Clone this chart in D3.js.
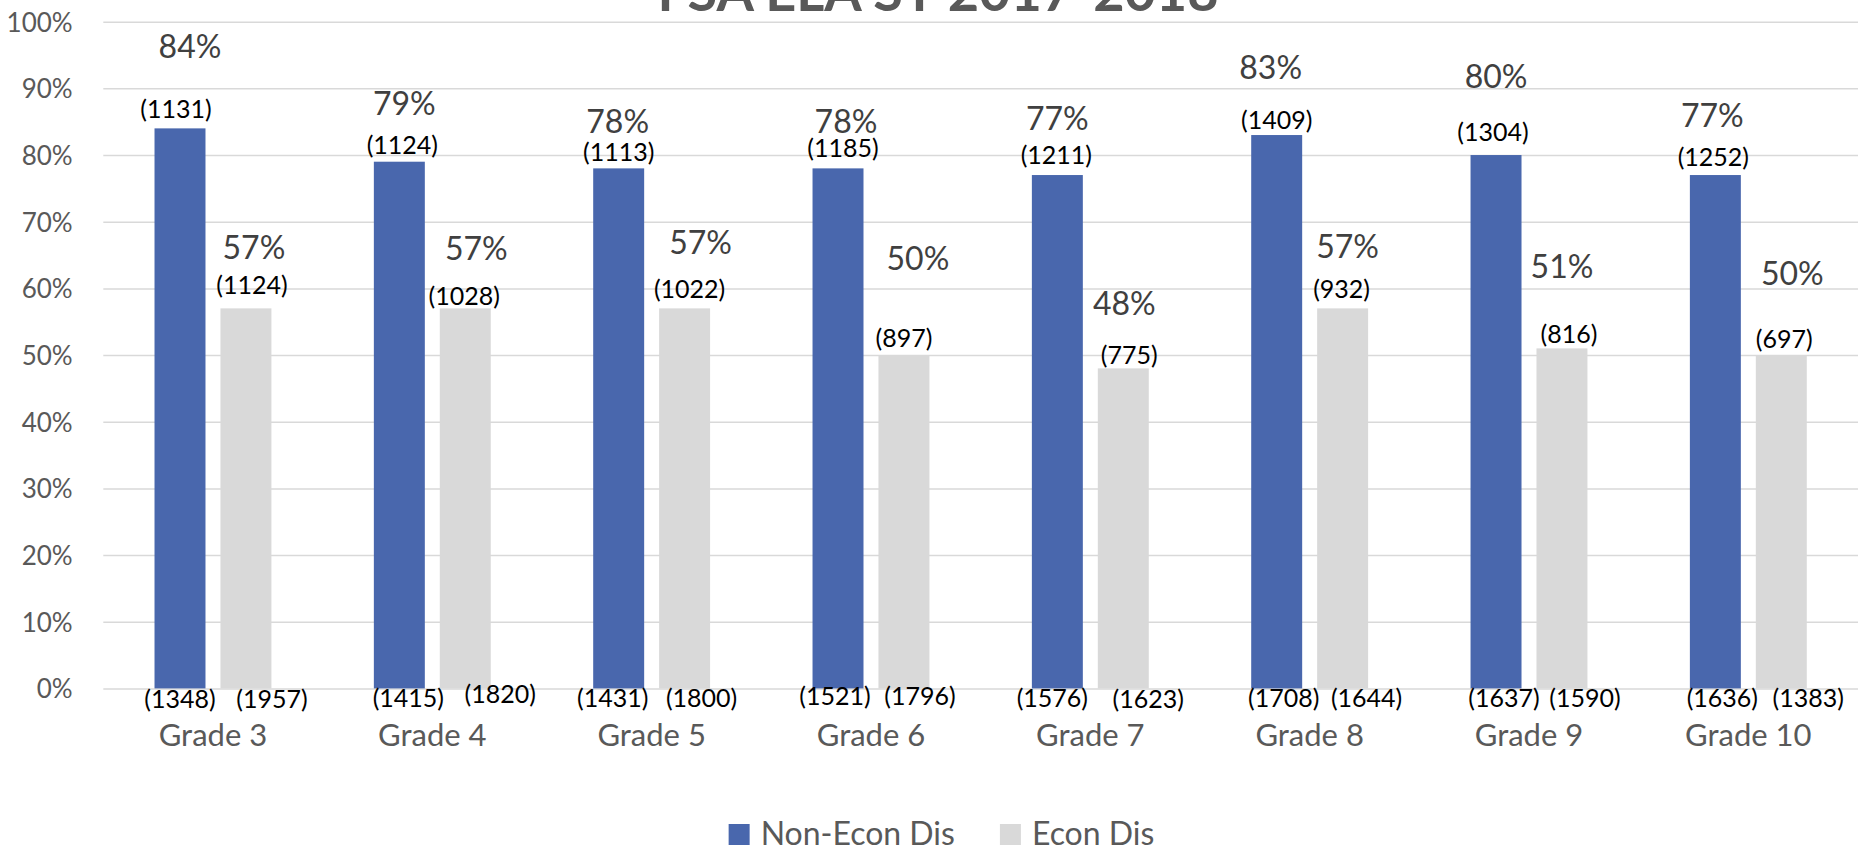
<!DOCTYPE html>
<html>
<head>
<meta charset="utf-8">
<script src="https://cdnjs.cloudflare.com/ajax/libs/d3/7.8.5/d3.min.js"></script>
<style>
  body { margin: 0; background: #fff; }
  svg { display: block; font-family: Lato, "Open Sans", sans-serif; }
</style>
</head>
<body>
<div id="chart"></div>
<script>
var grades = ["Grade 3", "Grade 4", "Grade 5", "Grade 6", "Grade 7", "Grade 8", "Grade 9", "Grade 10"];
var seriesNames = ["Non-Econ Dis", "Econ Dis"];
var nonEconPct = [84, 79, 78, 78, 77, 83, 80, 77];
var econPct = [57, 57, 57, 50, 48, 57, 51, 50];
var nonEconPassed = [1131, 1124, 1113, 1185, 1211, 1409, 1304, 1252];
var econPassed = [1124, 1028, 1022, 897, 775, 932, 816, 697];
var nonEconTested = [1348, 1415, 1431, 1521, 1576, 1708, 1637, 1636];
var econTested = [1957, 1820, 1800, 1796, 1623, 1644, 1590, 1383];
var yTicks = [0, 10, 20, 30, 40, 50, 60, 70, 80, 90, 100];

// the original's data labels were dragged by hand: [dx, dy] in px
// pct + passed: from bar centre / bar top; tested: from bar centre / baseline
var pctShift = [
  [[10, -82], [5, -58], [-1, -47], [8, -47], [0, -57], [-6, -68], [0, -79], [-3, -60]],
  [[8, -61], [11, -60], [16, -66], [14, -97], [1, -65], [5, -62], [0, -82], [11, -82]]
];
var passedShift = [
  [[-4, -19], [3, -17], [0, -16], [5, -20], [-1, -20], [0, -15], [-3, -23], [-2, -18]],
  [[6, -23], [-1, -12], [5, -19], [0, -17], [6, -13], [-1, -19], [7, -14], [3, -16]]
];
var testedShift = [
  [[0, 11], [9, 10], [-6, 10], [-3, 8], [-5, 10], [7, 10], [8, 10], [7, 10]],
  [[26, 11], [35, 6], [17, 10], [16, 8], [25, 11], [24, 10], [23, 10], [27, 10]]
];

var colors = ["#4967ad", "#d9d9d9"];

var svgWidth = 1864;
var svgHeight = 849;
var margin = { top: 21.7, right: 6, bottom: 160.6, left: 103.3 };
var width = svgWidth - margin.left - margin.right;
var height = svgHeight - margin.top - margin.bottom;

var svg = d3.select("#chart")
  .append("svg")
  .attr("width", svgWidth)
  .attr("height", svgHeight);

var chartGroup = svg.append("g")
  .attr("transform", `translate(${margin.left}, ${margin.top})`);

var x0 = d3.scaleBand()
  .domain(grades)
  .range([0, width])
  .paddingInner(0.467)
  .paddingOuter(0.2335);

var x1 = d3.scaleBand()
  .domain(seriesNames)
  .range([0, x0.bandwidth()])
  .paddingInner(0.227);

var y = d3.scaleLinear()
  .domain([0, 100])
  .range([height, 0]);

// gridlines + y labels
var yAxis = chartGroup.append("g")
  .call(d3.axisLeft(y).tickValues(yTicks).tickSize(-width).tickFormat(d => d + "%"))
  .attr("font-family", null)
  .attr("font-size", null);
yAxis.select(".domain").remove();
yAxis.selectAll(".tick line").attr("stroke", "#d9d9d9").attr("stroke-width", 1.5);
yAxis.selectAll(".tick text")
  .attr("x", -30.6)
  .attr("dy", "0.36em")
  .attr("fill", "#595959")
  .style("font-size", "26px");

// category labels
var xAxis = chartGroup.append("g")
  .attr("transform", `translate(0, ${height})`)
  .call(d3.axisBottom(x0).tickSize(0))
  .attr("font-family", null)
  .attr("font-size", null);
xAxis.select(".domain").remove();
xAxis.selectAll(".tick text")
  .attr("y", 58)
  .attr("dy", null)
  .attr("fill", "#595959")
  .style("font-size", "31px");

var series = [
  { name: seriesNames[0], pct: nonEconPct, passed: nonEconPassed, tested: nonEconTested },
  { name: seriesNames[1], pct: econPct, passed: econPassed, tested: econTested }
];

series.forEach(function(s, si) {
  var rows = grades.map(function(g, i) {
    return { grade: g, i: i, pct: s.pct[i], passed: s.passed[i], tested: s.tested[i] };
  });
  var cx = d => x0(d.grade) + x1(s.name) + x1.bandwidth() / 2;

  chartGroup.append("g").selectAll("rect")
    .data(rows)
    .enter()
    .append("rect")
    .attr("x", d => x0(d.grade) + x1(s.name))
    .attr("y", d => y(d.pct))
    .attr("width", x1.bandwidth())
    .attr("height", d => height - y(d.pct))
    .attr("fill", colors[si]);

  chartGroup.append("g").selectAll("text")
    .data(rows)
    .enter()
    .append("text")
    .attr("x", d => cx(d) + pctShift[si][d.i][0])
    .attr("y", d => y(d.pct) + pctShift[si][d.i][1])
    .attr("dy", "0.36em")
    .attr("text-anchor", "middle")
    .attr("fill", "#404040")
    .style("font-size", "32px")
    .text(d => d.pct + "%");

  chartGroup.append("g").selectAll("text")
    .data(rows)
    .enter()
    .append("text")
    .attr("x", d => cx(d) + passedShift[si][d.i][0])
    .attr("y", d => y(d.pct) + passedShift[si][d.i][1])
    .attr("dy", "0.36em")
    .attr("text-anchor", "middle")
    .attr("fill", "#000")
    .style("font-size", "25px")
    .text(d => "(" + d.passed + ")");

  chartGroup.append("g").selectAll("text")
    .data(rows)
    .enter()
    .append("text")
    .attr("x", d => cx(d) + testedShift[si][d.i][0])
    .attr("y", d => y(0) + testedShift[si][d.i][1])
    .attr("dy", "0.36em")
    .attr("text-anchor", "middle")
    .attr("fill", "#000")
    .style("font-size", "25px")
    .text(d => "(" + d.tested + ")");
});

// title, cut off by the top edge like the original
svg.append("text")
  .attr("x", 938)
  .attr("y", 11)
  .attr("text-anchor", "middle")
  .attr("fill", "#595959")
  .style("font-size", "54px")
  .style("font-weight", "bold")
  .text("FSA ELA SY 2017-2018");

// legend
var legend = svg.append("g");
var items = legend.selectAll("g")
  .data(seriesNames)
  .enter()
  .append("g");
items.append("rect")
  .attr("y", 824)
  .attr("width", 21)
  .attr("height", 21)
  .attr("fill", (d, i) => colors[i]);
items.append("text")
  .attr("x", 32)
  .attr("y", 845)
  .attr("fill", "#595959")
  .style("font-size", "32px")
  .text(d => d);

var offset = 0;
var widths = [];
items.each(function() {
  widths.push(32 + d3.select(this).select("text").node().getComputedTextLength());
});
var gap = 45;
var total = d3.sum(widths) + gap * (widths.length - 1);
var startX = 941.5 - total / 2;
items.attr("transform", function(d, i) {
  var tx = startX + offset;
  offset += widths[i] + gap;
  return `translate(${tx}, 0)`;
});
</script>
</body>
</html>
